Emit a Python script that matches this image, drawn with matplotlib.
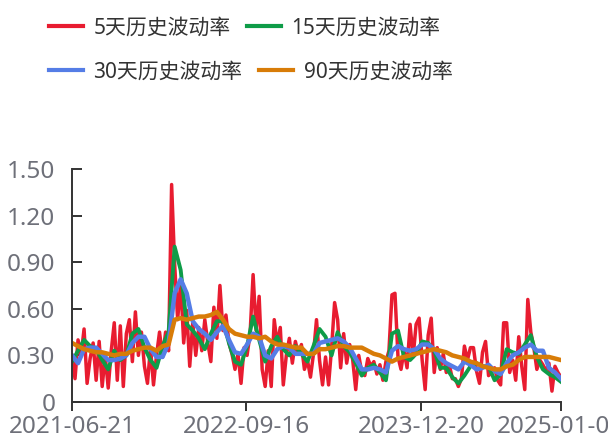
import matplotlib.pyplot as plt
from matplotlib.lines import Line2D
import numpy as np

plt.rcParams['font.family'] = ['Noto Sans', 'Noto Sans CJK SC', 'DejaVu Sans']

# trading-day axis, labels every 310 days
N_DAYS = 870
tick_idx = [0, 310, 620, 869]
tick_dates = ["2021-06-21", "2022-09-16", "2023-12-20", "2025-01-03"]

names = ["5天历史波动率", "15天历史波动率", "30天历史波动率", "90天历史波动率"]
colors = ["#e81c30", "#0e9c48", "#557de6", "#d87c08"]

vol_5 = [
    0.30, 0.15, 0.40, 0.30, 0.47, 0.12, 0.28, 0.38, 0.14, 0.39,
    0.10, 0.30, 0.09, 0.33, 0.51, 0.14, 0.49, 0.10, 0.44, 0.53,
    0.26, 0.58, 0.30, 0.45, 0.23, 0.12, 0.35, 0.11, 0.30, 0.45,
    0.29, 0.45, 0.33, 1.40, 0.89, 0.53, 0.77, 0.38, 0.59, 0.23,
    0.51, 0.30, 0.48, 0.33, 0.53, 0.38, 0.26, 0.61, 0.41, 0.75,
    0.46, 0.56, 0.38, 0.31, 0.21, 0.31, 0.12, 0.35, 0.30, 0.44,
    0.82, 0.46, 0.68, 0.21, 0.10, 0.33, 0.10, 0.53, 0.37, 0.48,
    0.11, 0.30, 0.41, 0.25, 0.39, 0.31, 0.37, 0.21, 0.27, 0.16,
    0.31, 0.53, 0.27, 0.11, 0.29, 0.11, 0.35, 0.64, 0.53, 0.22,
    0.44, 0.25, 0.37, 0.27, 0.08, 0.30, 0.19, 0.17, 0.28, 0.23,
    0.26, 0.18, 0.24, 0.14, 0.26, 0.33, 0.69, 0.70, 0.29, 0.21,
    0.33, 0.22, 0.50, 0.29, 0.50, 0.54, 0.27, 0.08, 0.43, 0.54,
    0.19, 0.35, 0.21, 0.31, 0.19, 0.24, 0.15, 0.15, 0.10, 0.15,
    0.36, 0.27, 0.35, 0.35, 0.20, 0.12, 0.32, 0.39, 0.17, 0.19,
    0.22, 0.14, 0.11, 0.51, 0.51, 0.19, 0.27, 0.14, 0.42, 0.23,
    0.08, 0.66, 0.45, 0.35, 0.21, 0.27, 0.24, 0.20, 0.25, 0.07,
    0.23, 0.19, 0.16,
]

vol_15 = [
    0.26, 0.33, 0.40, 0.36, 0.34, 0.27, 0.21, 0.33, 0.27, 0.30,
    0.44, 0.47, 0.35, 0.27, 0.22, 0.36, 0.45, 1.00, 0.85, 0.50,
    0.46, 0.41, 0.34, 0.44, 0.52, 0.52, 0.38, 0.26, 0.24, 0.36,
    0.55, 0.40, 0.26, 0.36, 0.42, 0.34, 0.30, 0.36, 0.31, 0.26,
    0.36, 0.47, 0.42, 0.30, 0.45, 0.36, 0.32, 0.25, 0.17, 0.22,
    0.24, 0.19, 0.14, 0.44, 0.46, 0.29, 0.27, 0.31, 0.39, 0.38,
    0.33, 0.22, 0.22, 0.16, 0.12, 0.17, 0.23, 0.25, 0.23, 0.23,
    0.14, 0.18, 0.34, 0.32, 0.31, 0.37, 0.43, 0.29, 0.21, 0.18,
    0.16, 0.13,
]

vol_30 = [
    0.30, 0.25, 0.34, 0.35, 0.35, 0.31, 0.27, 0.27, 0.28, 0.30,
    0.38, 0.42, 0.42, 0.34, 0.29, 0.29, 0.38, 0.70, 0.79, 0.70,
    0.52, 0.47, 0.44, 0.40, 0.45, 0.49, 0.40, 0.32, 0.31, 0.37,
    0.44, 0.42, 0.30, 0.28, 0.34, 0.36, 0.35, 0.31, 0.31, 0.31,
    0.31, 0.38, 0.39, 0.40, 0.41, 0.39, 0.35, 0.28, 0.21, 0.21,
    0.22, 0.21, 0.19, 0.33, 0.36, 0.34, 0.33, 0.34, 0.37, 0.37,
    0.34, 0.28, 0.25, 0.23, 0.21, 0.26, 0.24, 0.21, 0.22, 0.24,
    0.20, 0.18, 0.25, 0.30, 0.32, 0.35, 0.37, 0.33, 0.33, 0.22,
    0.19, 0.15,
]

vol_90 = [
    0.38, 0.36, 0.34, 0.33, 0.32, 0.32, 0.31, 0.30, 0.31, 0.31,
    0.33, 0.34, 0.35, 0.35, 0.33, 0.36, 0.37, 0.53, 0.54, 0.53,
    0.54, 0.55, 0.55, 0.56, 0.58, 0.53, 0.47, 0.44, 0.43, 0.42,
    0.42, 0.41, 0.42, 0.39, 0.37, 0.37, 0.36, 0.35, 0.35, 0.31,
    0.31, 0.34, 0.34, 0.35, 0.36, 0.36, 0.35, 0.35, 0.35, 0.33,
    0.31, 0.30, 0.28, 0.26, 0.28, 0.29, 0.30, 0.31, 0.32, 0.33,
    0.34, 0.33, 0.32, 0.30, 0.29, 0.28, 0.26, 0.25, 0.23, 0.22,
    0.21, 0.21, 0.23, 0.24, 0.27, 0.29, 0.29, 0.29, 0.29, 0.29,
    0.28, 0.27,
]

series = [vol_5, vol_15, vol_30, vol_90]
widths = [2.5, 2.8, 3.2, 3.2]

fig = plt.figure(figsize=(6.08, 4.38), dpi=100)
ax = fig.add_axes([72 / 608, 36 / 438, 489 / 608, 233 / 438])

for vals, c, lw in zip(series, colors, widths):
    x = np.linspace(0, N_DAYS - 1, len(vals))
    ax.plot(x, vals, color=c, lw=lw, solid_joinstyle="round", zorder=2)

ax.set_xlim(0, N_DAYS - 1)
ax.set_ylim(0, 1.5)

yt = [0, 0.3, 0.6, 0.9, 1.2, 1.5]
ax.set_yticks(yt, labels=["0"] + [f"{v:.2f}" for v in yt[1:]])
ax.set_xticks(tick_idx, labels=tick_dates)

for s in ["top", "right"]:
    ax.spines[s].set_visible(False)
for s in ["left", "bottom"]:
    ax.spines[s].set_color("#333333")
    ax.spines[s].set_linewidth(1.4)

ax.tick_params(axis="y", direction="in", length=7, width=1.4, color="#333333",
               labelsize=17.5, labelcolor="#6e7079", pad=12)
ax.tick_params(axis="x", direction="out", length=6.5, width=1.4, color="#333333",
               labelsize=17.5, labelcolor="#6e7079", pad=3)

# legend flows in two rows of two
handles = [Line2D([], [], color=c, lw=3) for c in colors]
rows = [(0, 1, 1 - 28 / 438), (2, 3, 1 - 72 / 438)]
for i, j, yy in rows:
    fig.legend([handles[i], handles[j]], [names[i], names[j]],
               loc="center left", bbox_to_anchor=(49 / 608, yy), ncol=2,
               frameon=False, fontsize=15, labelcolor="#333333",
               handlelength=1.63, handletextpad=0.5, columnspacing=0.8,
               borderpad=0, borderaxespad=0)

fig.savefig("out.png", dpi=100)
